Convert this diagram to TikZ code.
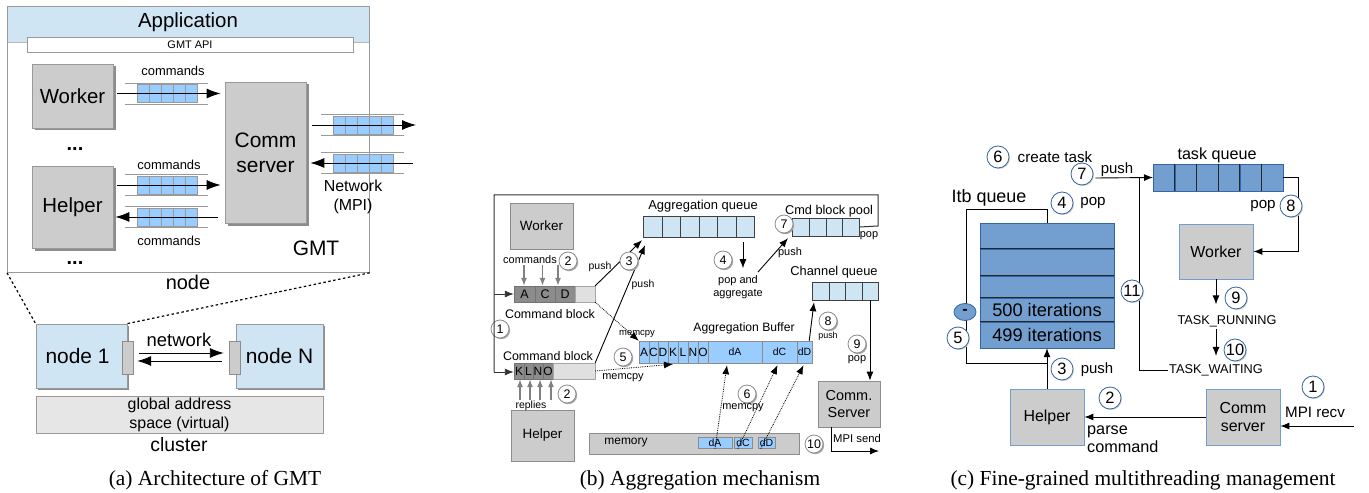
\documentclass[tikz,border=0pt]{standalone}
\usepackage{fontspec}
\setmainfont{Liberation Sans}
\newfontfamily\capfont{Liberation Serif}
\usetikzlibrary{arrows.meta,calc,shapes.geometric,shadows}
\definecolor{lblue}{HTML}{CFE5F4}
\definecolor{qblue}{HTML}{99CCFF}
\definecolor{mblue}{HTML}{729FCF}
\definecolor{dblue}{HTML}{3465A4}
\definecolor{boxgray}{HTML}{CCCCCC}
\definecolor{edgegray}{HTML}{999999}
\definecolor{shgray}{HTML}{8C8C8C}
\definecolor{dcell}{HTML}{8C8C8C}
\definecolor{lcell}{HTML}{E0E0E0}
\definecolor{gasgray}{HTML}{E6E6E6}
\newcommand\fs[1]{\fontsize{#1}{1.2\dimexpr#1pt\relax}\selectfont}
\newcommand\fss[2]{\fontsize{#1}{#2}\selectfont}
\newcommand\aqueue[3]{%
  \draw[edgegray, line width=0.6bp] (#2-12,#3-10.5) -- (#2+71,#3-10.5) (#2-12,#3+10.5) -- (#2+71,#3+10.5);
  \foreach \i in {0,...,4} \node[draw=edgegray, fill=qblue, minimum width=12bp, minimum height=18bp, inner sep=0, anchor=west] (#1\i) at (#2+12*\i,#3) {};
}
\begin{document}
\begin{tikzpicture}[x=1bp,y=-1bp,
  arr/.style={-{Latex[length=9bp,width=7bp]}, line width=0.9bp},
  arrA/.style={-{Latex[length=14bp,width=10bp]}, line width=0.9bp},
  garr/.style={-{Latex[length=8bp,width=6bp]}, line width=1.2bp, draw=gray, fill=gray},
  darr/.style={-{Latex[length=9bp,width=7bp]}, densely dotted, line width=0.8bp},
  gboxa/.style={draw=edgegray, fill=boxgray, line width=0.8bp, inner sep=0, align=center,
    drop shadow={shadow xshift=2.5bp, shadow yshift=-2.5bp, fill=shgray, opacity=1}},
  gboxb/.style={draw=black!45, fill=boxgray, line width=0.8bp, inner sep=0, align=center},
  gboxc/.style={draw=mblue, fill=boxgray, line width=0.8bp, inner sep=0, align=center},
  numb/.style={circle, draw=black!45, fill=white, line width=0.8bp, minimum size=18bp, inner sep=0, font=\fs{12.5},
    drop shadow={shadow xshift=1.2bp, shadow yshift=-1.2bp, fill=black!35, opacity=1}},
  numc/.style={circle, draw=dblue, fill=white, line width=0.8bp, minimum size=22bp, inner sep=0, font=\fs{16.5},
    drop shadow={shadow xshift=1bp, shadow yshift=-1bp, fill=black!20, opacity=1}},
  lbl/.style={inner sep=1bp},
  cellD/.style={draw=black!55, fill=dcell, minimum height=16bp, inner sep=0},
  cellL/.style={draw=black!35, fill=lcell, minimum height=16bp, inner sep=0},
  bcell/.style={draw=black!45, fill=qblue, minimum height=22bp, inner sep=0},
  lq/.style={draw=black!75, fill=lblue, inner sep=0},
  mq/.style={draw=dblue, fill=mblue, inner sep=0},
  captext/.style={font=\capfont\fs{21.5}}
]
\useasboundingbox (0,0) rectangle (1369,493);
\fill[white] (0,0) rectangle (1369,493);

% ================= (a) =================
\fill[lblue] (7,6) rectangle (369,42);
\draw[edgegray!70, line width=0.8bp] (7,42) -- (369,42);
\node[draw=edgegray, line width=0.8bp, minimum width=362bp, minimum height=266bp, anchor=north west, inner sep=0] (nodebox) at (7,6) {};
\node[lbl, font=\fs{20.5}] (app) at (188,22) {Application};
\node[draw=edgegray, fill=white, minimum width=326bp, minimum height=15bp, inner sep=0, font=\fs{11}] (api) at (190,44.5) {GMT API};

\node[gboxa, minimum width=81bp, minimum height=64bp, font=\fs{20.5}] (worker) at (72.5,96) {Worker};
\node[gboxa, minimum width=81bp, minimum height=82bp, font=\fs{20.5}] (helper) at (72.5,207) {Helper};
\node[gboxa, minimum width=81bp, minimum height=141bp, font=\fss{21}{25}] (comm) at (265.5,152.5) {Comm\\server};
\node[lbl, font=\bfseries\fs{20}] (dots1) at (75,149) {...};
\node[lbl, font=\bfseries\fs{20}] (dots2) at (75,263) {...};

\aqueue{qa}{137}{93.5}
\aqueue{qb}{137}{185}
\aqueue{qc}{137}{217}
\aqueue{qn}{333}{125}
\aqueue{qm}{333}{163}
\draw[arrA] ($(worker.east|-qa0.west)+(4,0)$) -- ($(comm.west|-qa0.west)+(-4,0)$);
\draw[arrA] ($(helper.east|-qb0.west)+(4,0)$) -- ($(comm.west|-qb0.west)+(-4,0)$);
\draw[arrA] ($(comm.west|-qc0.west)+(-7,0)$) -- ($(helper.east|-qc0.west)+(2,0)$);
\coordinate (netout) at (416,125);
\coordinate (netin) at (413,163);
\draw[arrA] ($(comm.east|-qn0.west)+(6,0)$) -- (netout);
\draw[arrA] (netin) -- ($(comm.east|-qm0.west)+(4,0)$);
\node[lbl, font=\fs{13}] (cmd1) at (173,71) {commands};
\node[lbl, font=\fs{13}] (cmd2) at (169,165) {commands};
\node[lbl, font=\fs{13}] (cmd3) at (169,241) {commands};
\node[lbl, font=\fss{16}{19}, align=center] (netlab) at (353,197) {Network\\(MPI)};
\node[lbl, font=\fs{21}] (gmt) at (316,248) {GMT};
\node[lbl, font=\fs{20}] (nodelab) at (188,282) {node};

\node[draw=edgegray, fill=lblue, line width=0.8bp, minimum width=91bp, minimum height=64bp, inner sep=0, font=\fs{21},
  drop shadow={shadow xshift=2bp, shadow yshift=-2bp, fill=shgray, opacity=1}] (n1) at (81.5,356) {node 1\hspace*{8bp}};
\node[draw=edgegray, fill=lblue, line width=0.8bp, minimum width=87bp, minimum height=64bp, inner sep=0, font=\fs{21},
  drop shadow={shadow xshift=2bp, shadow yshift=-2bp, fill=shgray, opacity=1}] (nN) at (279.5,356) {node N};
\node[draw=shgray, fill=boxgray, minimum width=11bp, minimum height=33bp, inner sep=0] (t1) at (127.5,357.5) {};
\node[draw=shgray, fill=boxgray, minimum width=11bp, minimum height=33bp, inner sep=0] (tN) at (234.5,357.5) {};
\draw[arrA] ($(t1.east)+(6,-4.5)$) -- ($(tN.west)+(-5,-4.5)$);
\draw[arrA] ($(tN.west)+(-7,3.5)$) -- ($(t1.east)+(4,3.5)$);
\node[lbl, font=\fs{18.5}] (netw) at (179,340) {network};
\draw[dash pattern=on 2.5bp off 2.5bp, line width=1.2bp] (nodebox.south west) -- (n1.north west);
\draw[dash pattern=on 2.5bp off 2.5bp, line width=1.2bp] (nodebox.south east) -- (n1.north east);
\node[draw=edgegray, fill=gasgray, line width=0.8bp, minimum width=287bp, minimum height=37bp, inner sep=0, font=\fss{16}{19}, align=center] (gas) at (179.5,414.5) {global address\\space (virtual)};
\node[lbl, font=\fs{19.5}] (cluster) at (179,445) {cluster};
\node[captext] (capa) at (215,480) {(a) Architecture of GMT};

% ================= (b) =================
\node[gboxb, minimum width=63bp, minimum height=46bp, font=\fs{13.5}] (wb) at (541.5,226) {Worker};
\node[gboxb, minimum width=63bp, minimum height=51bp, font=\fs{13.5}] (hb) at (542.5,435.5) {Helper};
\node[gboxb, minimum width=62bp, minimum height=46bp, font=\fss{14.5}{17}] (csb) at (849,404) {Comm.\\Server};
\node[draw=black!45, fill=boxgray, line width=0.8bp, minimum width=210bp, minimum height=21bp, inner sep=0] (mem) at (694,443.5) {};
\node[lbl, font=\fs{12}] (memlab) at (626,443) {memory};
\foreach \a/\b/\t/\n in {698/732/dA/mdA, 734/752/dC/mdC, 758/775/dD/mdD}
  \node[draw=black!45, fill=qblue, minimum width={(\b-\a)*1bp}, minimum height=11bp, inner sep=0, font=\fs{10.5}] (\n) at ({(\a+\b)/2},443) {\t};

% top command block
\node[cellD, minimum width=21bp, font=\fs{12.5}] (ca) at (524.5,294) {A};
\node[cellD, minimum width=20bp, font=\fs{12.5}] (cc) at (545,294) {C};
\node[cellD, minimum width=20bp, font=\fs{12.5}] (cd) at (565,294) {D};
\node[cellL, minimum width=20bp] (ce) at (585,294) {};
% lower command block
\node[cellD, minimum width=10bp, font=\fs{12}] (ck) at (519,371) {K};
\node[cellD, minimum width=9bp, font=\fs{12}] (cl) at (528.5,371) {L};
\node[cellD, minimum width=10bp, font=\fs{12}] (cn) at (538,371) {N};
\node[cellD, minimum width=10bp, font=\fs{12}] (co) at (548,371) {O};
\node[cellL, minimum width=42bp] (cr) at (574,371) {};

\coordinate (fr1) at (878,226);
\coordinate (fr2) at (878,195);
\coordinate (fr3) at (494,195);
\coordinate (fr4) at (494,372);
\coordinate (fr5) at (494,294);

\node[lbl, font=\fs{11}] (cmdb) at (530,260) {commands};
\node[numb] (b2a) at (568,261) {2};
\foreach \c/\dx in {ca/-0.5, cc/-2.5, cd/-7}
  \draw[garr] ($(\c.north)+(\dx,-21)$) -- ($(\c.north)+(\dx,0)$);
\node[lbl, font=\fs{12.5}] (cbl1) at (550,314) {Command block};
\node[numb] (b1) at (500,329) {1};
\node[lbl, font=\fs{12.5}] (cbl2) at (548,356) {Command block};
\foreach \c/\dx in {ck/1, cl/1.5, cn/2, co/3}
  \draw[garr] ($(\c.south)+(\dx,21)$) -- ($(\c.south)+(\dx,0)$);
\node[lbl, font=\fs{10.5}] (repl) at (531,406) {replies};
\node[numb] (b2b) at (567,394) {2};

% aggregation queue
\foreach \i in {0,...,5}
  \node[lq, minimum width=18.5bp, minimum height=21bp, anchor=west] (aq\i) at (643+18.5*\i,226.5) {};
\node[lbl, font=\fs{13}] (aql) at (703,206) {Aggregation queue};
% cmd block pool
\foreach \i in {0,...,3}
  \node[lq, minimum width=16.75bp, minimum height=18bp, anchor=west] (pool\i) at (792+16.75*\i,227) {};
\node[lbl, font=\fs{12.8}] (pooll) at (829,211) {Cmd block pool};
\node[numb] (b7) at (784,224) {7};
\node[lbl, font=\fs{11}] (popl) at (869,236) {pop};
% channel queue
\foreach \i in {0,...,3}
  \node[lq, minimum width=16.5bp, minimum height=18bp, anchor=west] (ch\i) at (812+16.5*\i,291) {};
\node[lbl, font=\fs{12.9}] (chl) at (834,272) {Channel queue};

% frame
\draw[line width=1bp, black!80] (pool3.east) -- (fr1) -- (fr2) -- (fr3) -- (fr4);
\draw[arr, black!80] (fr4) -- (ck.west |- fr4);
\draw[arr, black!80] (fr5) -- (ca.west);

% aggregation buffer
\foreach \a/\b/\t/\n/\f in {639/649/A/bA/12, 649/658/C/bC/12, 658/668/D/bD/12, 668/678/K/bK/12, 678/688/L/bL/12, 688/698/N/bN/12, 698/708/O/bO/12, 708/762/dA/bdA/10.5, 762/797/dC/bdC/10.5, 797/812/dD/bdD/10.5}
  \node[bcell, minimum width={(\b-\a)*1bp}, font=\fs{\f}] (\n) at ({(\a+\b)/2},352) {\t};
\node[lbl, font=\fs{12.2}] (abl) at (744,328) {Aggregation Buffer};

% arrows (b)
\draw[arr] (ce.north east) -- ($(aq0.south west)+(-1,3)$);
\draw[arr] (cr.north east) -- ($(aq0.south west)+(2,8)$);
\node[lbl, font=\fs{10.5}] (push1) at (600,267) {push};
\node[numb] (b3) at (629,261) {3};
\node[lbl, font=\fs{10.5}] (push2) at (643,285) {push};
\draw[darr] (ce.south east) -- (bA.north west);
\node[lbl, font=\fs{9.5}] (mc1) at (637,334) {memcpy};
\draw[darr] (cr.east) -- ($(bK.south)+(0,1)$);
\node[lbl, font=\fs{11}] (mc2) at (623,378) {memcpy};
\node[numb] (b5) at (623,357) {5};
\draw[arr] ($(aq5.south)+(-2,5)$) -- ($(aq5.south)+(-2,31)$);
\node[numb] (b4) at (723,260) {4};
\node[lbl, font=\fss{11}{13}, align=center] (popagg) at (738,287) {pop and\\aggregate};
\coordinate (pa) at (758,272);
\draw[arr] (pa) -- ($(pool0.south west)+(-4,2)$);
\node[lbl, font=\fs{11}] (push3) at (790,253) {push};
\draw[darr] (mdA.south) -- ($(bdA.south)+(-8,2)$);
\draw[darr] ($(mdC.south west)+(4,0)$) -- ($(bdC.south)+(-2,2)$);
\draw[darr] ($(mdD.south west)+(3,0)$) -- ($(bdD.south)+(-1,2)$);
\node[numb] (b6) at (747,394) {6};
\node[lbl, font=\fs{11}] (mc3) at (743,408) {memcpy};
\draw[arr] ($(bdD.north east)+(-3,0)$) -- ($(ch0.south west)+(2,2)$);
\node[numb] (b8) at (828,321) {8};
\node[lbl, font=\fs{9}] (push4) at (828,336) {push};
\draw[arr] (ch3.south) -- (ch3.south |- csb.north);
\node[numb] (b9) at (857,344) {9};
\node[lbl, font=\fs{11}] (pop9) at (857,360) {pop};
\node[numb] (b10) at (814,444) {10};
\node[lbl, font=\fs{11.3}] (mpis) at (857,438) {MPI send};
\coordinate (mpiout) at (879,451);
\draw[arr] ($(csb.south west)+(14,0)$) |- (mpiout);
\node[captext] (capb) at (700,480) {(b) Aggregation mechanism};

% ================= (c) =================
\node[mq, minimum width=134bp, minimum height=26bp] (r0) at (1047,236) {};
\node[mq, minimum width=134bp, minimum height=27bp] (r1) at (1047,262.5) {};
\node[mq, minimum width=134bp, minimum height=22bp] (r2) at (1047,287) {};
\node[mq, minimum width=134bp, minimum height=24bp, font=\fs{18.3}] (r3) at (1047,310) {500 iterations};
\node[mq, minimum width=134bp, minimum height=26bp, font=\fs{18.3}] (r4) at (1047,335) {499 iterations};
\foreach \r in {r1,r2,r3,r4}
  \draw[black!85, line width=0.9bp] (\r.north west) -- (\r.north east);
\node[lbl, font=\fs{18}] (itbl) at (989,198) {Itb queue};
\coordinate (lt) at (966,209);
\coordinate (lb) at (966,363);
\node[gboxc, minimum width=74bp, minimum height=56bp, font=\fs{16}] (hc) at (1047,417) {Helper};
\node[gboxc, minimum width=74bp, minimum height=56bp, font=\fss{16}{18}] (csc) at (1243,417) {Comm\\server};
\node[gboxc, minimum width=74bp, minimum height=55bp, font=\fs{16}] (wc) at (1216,251.5) {Worker};
\draw[line width=0.9bp] (r0.north) |- (lt) -- (lb) -- (lb -| r4.south);
\node[ellipse, fill=mblue, draw=dblue, line width=0.8bp, minimum width=22bp, minimum height=17bp, inner sep=0, font=\bfseries\fs{16}] (minus) at (965,312) {-};
\draw[arr] (hc.north) -- (r4.south);
\node[numc] (c5) at (958,338) {5};
\node[numc] (c4) at (1062,203) {4};
\node[lbl, font=\fs{15.2}] (popc) at (1093,203) {pop};
\node[numc] (c3) at (1062,369) {3};
\node[lbl, font=\fs{15}] (pushc) at (1097,370) {push};
\draw[arr] (csc.west) -- (hc.east);
\node[numc] (c2) at (1110,398) {2};
\node[lbl, font=\fss{16.3}{18}, align=left, anchor=west] (parse) at (1086,439) {parse\\command};
\node[numc] (c1) at (1313,387) {1};
\node[lbl, font=\fs{15.2}] (mpir) at (1315,412) {MPI recv};
\coordinate (mpiin) at (1354,426);
\draw[arr] (mpiin) -- (mpiin -| csc.east);

\foreach \i in {0,...,5}
  \node[mq, minimum width=21.67bp, minimum height=27bp, anchor=west] (tq\i) at (1153+21.67*\i,177.5) {};
\foreach \i in {1,...,5}
  \draw[black!85, line width=0.9bp] (tq\i.north west) -- (tq\i.south west);
\node[lbl, font=\fs{16.2}] (tql) at (1217,155) {task queue};
\node[numc] (c6) at (998,157) {6};
\node[lbl, font=\fs{15.3}] (ct) at (1055,157) {create task};
\node[numc] (c7) at (1082,174) {7};
\node[lbl, font=\fs{15}] (push7) at (1117,170) {push};
\draw[arr] ($(c7.east)+(2,4)$) -- (tq0.west);
\node[lbl, font=\fs{12.8}] (tr) at (1227,321) {TASK\_RUNNING};
\node[lbl, font=\fs{12.8}, anchor=west] (tw) at (1168,370) {TASK\_WAITING};
\coordinate (v1) at (1139,178);
\draw[line width=0.9bp] (v1) |- (tw.west);
\node[numc] (c11) at (1132,291) {11};
\coordinate (pr) at (1298,251.5);
\draw[arr] (tq5.east) -| (pr) -- (wc.east);
\node[numc] (c8) at (1291,206) {8};
\node[lbl, font=\fs{15.2}] (pop8) at (1263,206) {pop};
\draw[arr] (wc.south) -- ++(0,25);
\node[numc] (c9) at (1236,298) {9};
\draw[arr] ($(tr.south -| wc.south)+(0,1)$) -- ++(0,27);
\node[numc] (c10) at (1235,350) {10};
\node[captext] (capc) at (1143,480) {(c) Fine-grained multithreading management};
\end{tikzpicture}
\end{document}
